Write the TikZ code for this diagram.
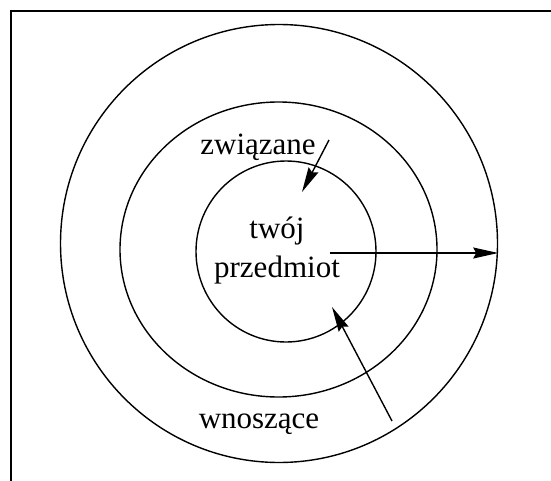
\documentclass[tikz,border=0pt]{standalone}
\usepackage{fontspec}
\setmainfont{Liberation Serif}
\usetikzlibrary{arrows.meta,shapes.geometric}

\begin{document}
\begin{tikzpicture}[
  x=0.5pt, y=-0.5pt,
  font=\fontsize{15.5}{19}\selectfont,
  ring/.style={
    ellipse, draw=black, line width=0.7pt,
    inner sep=0pt
  },
  lbl/.style={anchor=base, inner sep=0pt},
  arr/.style={
    -{Stealth[length=12.5pt,width=5.5pt,inset=1.5pt]},
    draw=black, line width=0.7pt
  },
  frame/.style={draw=black, line width=1pt}
]
\useasboundingbox (0,0) rectangle (551,481);

% ─── Frame ──────────────────────────────────────────────────
\draw[frame] (551,11) -- (11,11) -- (11,481);

% ─── Rings ──────────────────────────────────────────────────
\node[ring, minimum width=218.5pt, minimum height=219pt] (outer) at (279,243.5) {};
\node[ring, minimum width=158.5pt, minimum height=147.5pt] (middle) at (278.5,249.5) {};
\node[ring, minimum width=90pt, minimum height=90.5pt] (inner) at (286,251.5) {};

% ─── Labels ─────────────────────────────────────────────────
\node[lbl] (twoj) at (277,238) {twój};
\node[lbl] (przedmiot) at (277,277) {przedmiot};
\node[lbl] (zwiazane) at (258,155) {związane};
\node[lbl] (wnoszace) at (259,428) {wnoszące};

% ─── Arrows ─────────────────────────────────────────────────
\coordinate (hstart) at (330,253);
\draw[arr] (hstart) -- (hstart -| outer.east);

\coordinate (zstart) at (329,140);
\coordinate (ztip) at (302,192);
\draw[arr] (zstart) -- (ztip);

\coordinate (wstart) at (392,421);
\coordinate (wtip) at (332,307);
\draw[arr] (wstart) -- (wtip);

\end{tikzpicture}
\end{document}
